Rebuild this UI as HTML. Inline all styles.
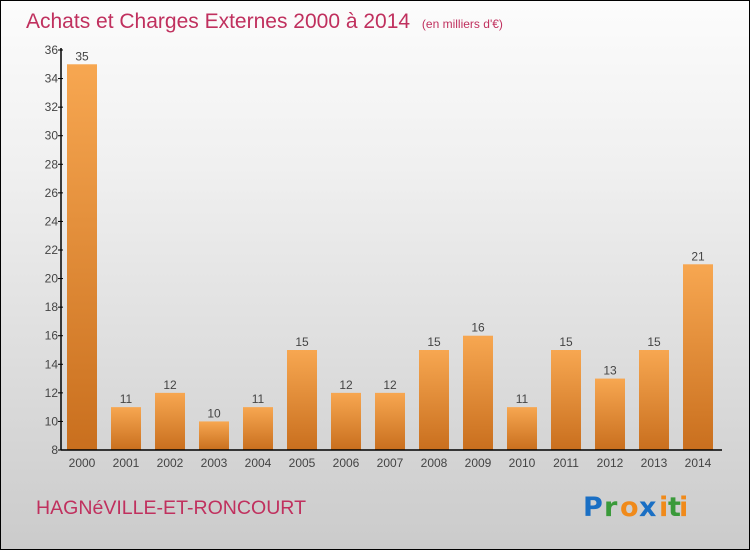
<!DOCTYPE html>
<html><head><meta charset="utf-8">
<style>
html,body{margin:0;padding:0}
body{width:750px;height:550px;overflow:hidden;font-family:"Liberation Sans",sans-serif}
#wrap{position:relative;width:748px;height:548px;border:1px solid #000;background:linear-gradient(#fcfcfc,#f0f0f0 30%,#cbcbcb)}
</style></head><body>
<div id="wrap">
<svg id="chart" width="748" height="548" style="position:absolute;left:0;top:0">
<defs>
<linearGradient id="bg" x1="0" y1="0" x2="0" y2="1">
<stop offset="0" stop-color="#f7a751"/><stop offset="1" stop-color="#c96f1e"/>
</linearGradient>
</defs>
<text x="25" y="27" font-size="21" fill="#c0305e" style="font-weight:300">Achats et Charges Externes 2000 à 2014 <tspan font-size="12" dx="6">(en milliers d'€)</tspan></text>
<g id="grid"></g>
<g id="bars"></g>
<g id="axes"></g>
<text x="35" y="513" font-size="19" fill="#c0305e" textLength="270" lengthAdjust="spacingAndGlyphs">HAGNéVILLE-ET-RONCOURT</text>
<g font-size="27" font-weight="bold" style="font-family:'DejaVu Sans',sans-serif">
<text x="582" y="515" fill="#1a6fc4">P</text><text x="603" y="515" fill="#3a9a3a">r</text><text x="619" y="515" fill="#f08a1a">o</text><text x="638" y="515" fill="#1a6fc4">x</text><text x="658" y="515" fill="#f08a1a">i</text><text x="667" y="515" fill="#3a9a3a">t</text><text x="678" y="515" fill="#f08a1a">i</text>
</g>
</svg>
</div>
<script>
const categories=["2000","2001","2002","2003","2004","2005","2006","2007","2008","2009","2010","2011","2012","2013","2014"];
const values=[35,11,12,10,11,15,12,12,15,16,11,15,13,15,21];
const yTicks=[8,10,12,14,16,18,20,22,24,26,28,30,32,34,36];
const NS="http://www.w3.org/2000/svg";
const y0=449,y1=49,vmin=8,vmax=36;
const xL=60,xR=721,step=44,first=81,bw=30;
function y(v){return y0-(v-vmin)/(vmax-vmin)*(y0-y1);}
function x(i){return first+i*step;}
function mk(t,a,p){const e=document.createElementNS(NS,t);for(const k in a)e.setAttribute(k,a[k]);p.appendChild(e);return e;}
const bars=document.getElementById('bars'),axes=document.getElementById('axes');
values.forEach((v,i)=>{
 const r=mk('rect',{x:x(i)-bw/2,y:y(v),width:bw,height:y0-y(v),fill:'url(#bg)'},bars);
 
 
 const t=mk('text',{x:x(i),y:y(v)-4,'text-anchor':'middle','font-size':12,fill:'#444'},bars);
 t.textContent=v;
 
 
 const c=mk('text',{x:x(i),y:y0+17,'text-anchor':'middle','font-size':12,fill:'#444'},axes);
 c.textContent=categories[i];
 
 
});
const ya=mk('line',{x1:xL,y1:y1-2,x2:xL,y2:y0,stroke:'#000','stroke-width':1.5},axes);


const xa=mk('line',{x1:xL,y1:y0,x2:xR,y2:y0,stroke:'#000','stroke-width':1.5},axes);


yTicks.forEach(v=>{
 mk('line',{x1:xL-3,y1:y(v),x2:xL+2,y2:y(v),stroke:'#000'},axes);
 const t=mk('text',{x:xL-3,y:y(v)+4,'text-anchor':'end','font-size':12,fill:'#444'},axes);
 t.textContent=v;
 
 
});
</script>
</body></html>
